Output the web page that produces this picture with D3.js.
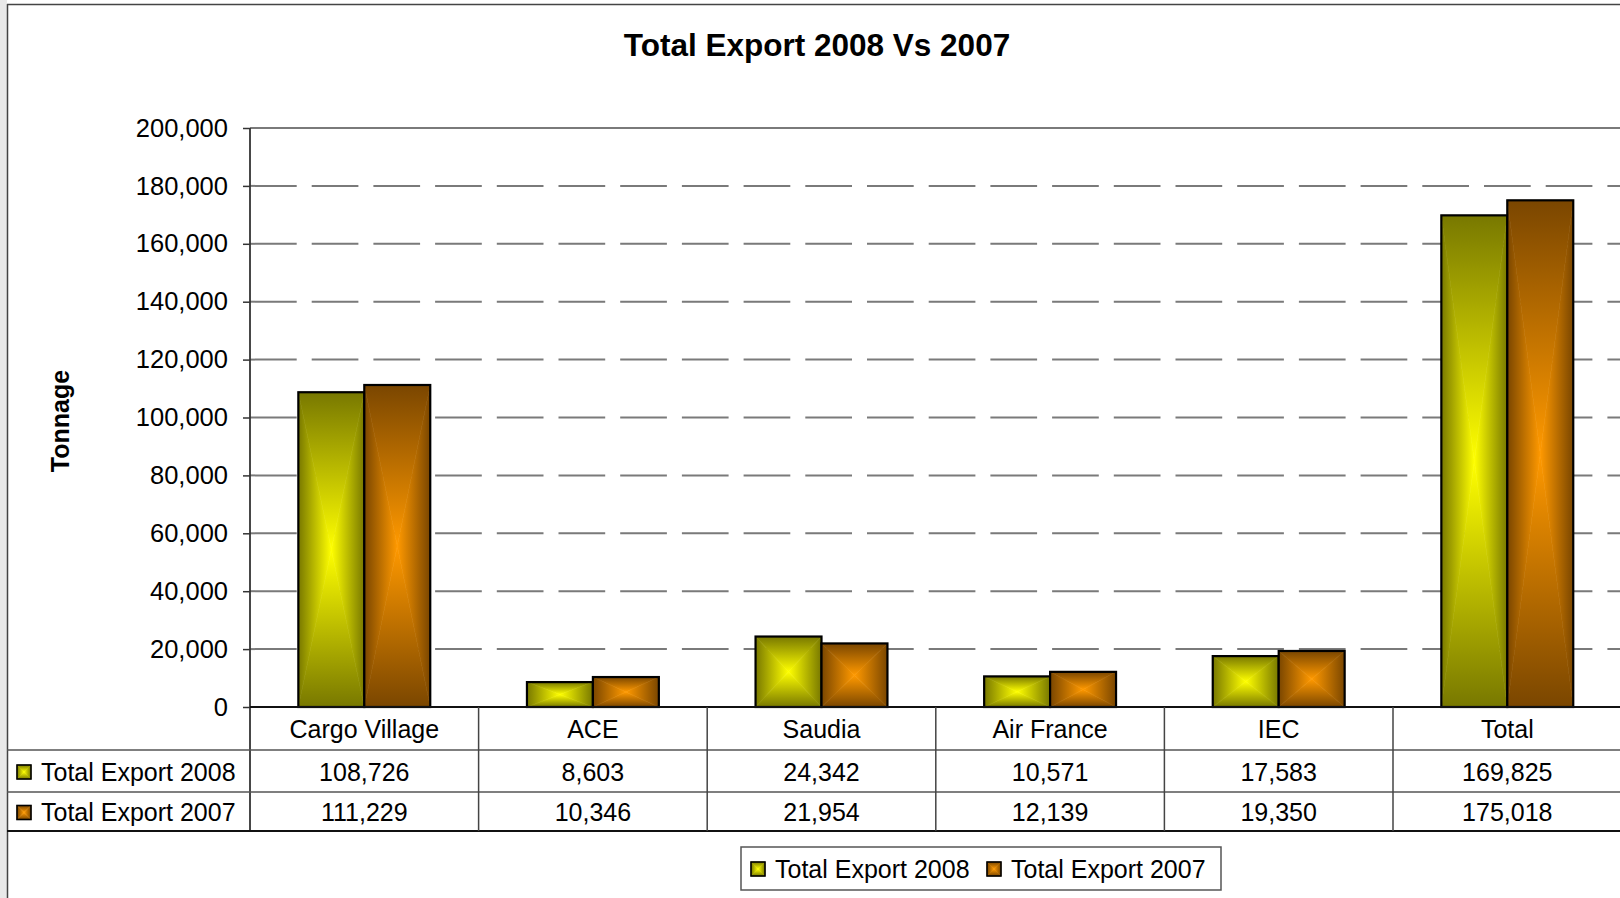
<!DOCTYPE html>
<html>
<head>
<meta charset="utf-8">
<script src="https://d3js.org/d3.v7.min.js"></script>
<style>
  html, body { margin: 0; padding: 0; background: #fff; overflow: hidden; }
  text { font-family: "Liberation Sans", Arial, sans-serif; fill: #000; }
</style>
</head>
<body>
<svg id="chart" width="1620" height="898"></svg>
<script>
const categories = ["Cargo Village", "ACE", "Saudia", "Air France", "IEC", "Total"];
const export2008 = [108726, 8603, 24342, 10571, 17583, 169825];
const export2007 = [111229, 10346, 21954, 12139, 19350, 175018];
const seriesNames = ["Total Export 2008", "Total Export 2007"];
const yTickValues = [0, 20000, 40000, 60000, 80000, 100000, 120000, 140000, 160000, 180000, 200000];
const chartTitle = "Total Export 2008 Vs 2007";
const yAxisTitle = "Tonnage";

(function () {
const seriesData = [export2008, export2007];
const seriesColors = [
  { dark: "#787800", bright: "#ffff00" },
  { dark: "#7a4600", bright: "#ff9900" }
];

const svg = d3.select("#chart");
const pLeft = 250, pRight = 1621.6, pTop = 128, pBottom = 707;
const rowY = [707, 750, 792, 831];

const y = d3.scaleLinear().domain([0, 200000]).range([pBottom, pTop]);
const xCol = d3.scaleBand().domain(categories).range([pLeft, pRight]).padding(0);
const xBar = d3.scaleBand().domain(categories).range([pLeft, pRight]).paddingInner(0.423).paddingOuter(0.2115);
const xSub = d3.scaleBand().domain(d3.range(seriesNames.length)).range([0, xBar.bandwidth()]);

// background & chart border
svg.append("rect").attr("x", 0).attr("y", 0).attr("width", 1620).attr("height", 898).attr("fill", "#fff");
svg.append("rect").attr("x", 0).attr("y", 0).attr("width", 7).attr("height", 898).attr("fill", "#e9e9e9");
svg.append("line").attr("x1", 7).attr("x2", 1620).attr("y1", 4.5).attr("y2", 4.5).attr("stroke", "#444").attr("stroke-width", 1.5);
svg.append("line").attr("x1", 7.5).attr("x2", 7.5).attr("y1", 4).attr("y2", 898).attr("stroke", "#444").attr("stroke-width", 1.5);

// gradients
const defs = svg.append("defs");
const dirs = {
  top: [0, 0, 0, 1], bottom: [0, 1, 0, 0], left: [0, 0, 1, 0], right: [1, 0, 0, 0]
};
seriesColors.forEach((c, i) => {
  Object.entries(dirs).forEach(([k, v]) => {
    const g = defs.append("linearGradient").attr("id", `g${i}${k}`)
      .attr("x1", v[0]).attr("y1", v[1]).attr("x2", v[2]).attr("y2", v[3]);
    g.append("stop").attr("offset", 0).attr("stop-color", c.dark);
    g.append("stop").attr("offset", 1).attr("stop-color", c.bright);
  });
});

function gradBox(g, x0, y0, w, h, si, sw) {
  const cx = x0 + w / 2, cy = y0 + h / 2, x1 = x0 + w, y1 = y0 + h;
  const tris = {
    top: [[x0, y0], [x1, y0], [cx, cy]],
    bottom: [[x0, y1], [x1, y1], [cx, cy]],
    left: [[x0, y0], [x0, y1], [cx, cy]],
    right: [[x1, y0], [x1, y1], [cx, cy]]
  };
  Object.entries(tris).forEach(([k, pts]) => {
    g.append("polygon").attr("points", pts.map(p => p.join(",")).join(" "))
      .attr("fill", `url(#g${si}${k})`).attr("stroke", `url(#g${si}${k})`).attr("stroke-width", 0.6);
  });
  g.append("rect").attr("x", x0).attr("y", y0).attr("width", w).attr("height", h)
    .attr("fill", "none").attr("stroke", "#000").attr("stroke-width", sw);
}

// gridlines
svg.append("g").selectAll("line").data(yTickValues.filter(v => v > 0 && v < 200000)).join("line")
  .attr("x1", pLeft).attr("x2", 1620).attr("y1", d => y(d)).attr("y2", d => y(d))
  .attr("stroke", "#7a7a7a").attr("stroke-width", 2).attr("stroke-dasharray", "46.7,15");
svg.append("line").attr("x1", pLeft).attr("x2", 1620).attr("y1", y(200000)).attr("y2", y(200000))
  .attr("stroke", "#7a7a7a").attr("stroke-width", 2);

// y axis
const yAxis = svg.append("g").attr("transform", `translate(${pLeft},0)`)
  .call(d3.axisLeft(y).tickValues(yTickValues).tickFormat(d3.format(",")).tickSize(7).tickPadding(15));
yAxis.select(".domain").remove();
yAxis.selectAll(".tick line").attr("stroke", "#333").attr("stroke-width", 1.5);
yAxis.selectAll(".tick text").attr("font-size", 25.5).attr("font-family", "Liberation Sans, Arial, sans-serif").attr("fill", "#000");
svg.append("line").attr("x1", pLeft).attr("x2", pLeft).attr("y1", pTop).attr("y2", rowY[3])
  .attr("stroke", "#333").attr("stroke-width", 1.8);

// bars
const barsG = svg.append("g");
categories.forEach((c, ci) => {
  seriesData.forEach((s, si) => {
    const x0 = xBar(c) + xSub(si);
    const y0 = y(s[ci]);
    gradBox(barsG, x0, y0, xSub.bandwidth(), y(0) - y0, si, 2.2);
  });
});

// data table
const tbl = svg.append("g");
tbl.append("line").attr("x1", pLeft).attr("x2", 1620).attr("y1", rowY[0]).attr("y2", rowY[0]).attr("stroke", "#111").attr("stroke-width", 2);
[rowY[1], rowY[2]].forEach(yy => tbl.append("line").attr("x1", 7).attr("x2", 1620).attr("y1", yy).attr("y2", yy).attr("stroke", "#555").attr("stroke-width", 1.5));
tbl.append("line").attr("x1", 7).attr("x2", 1620).attr("y1", rowY[3]).attr("y2", rowY[3]).attr("stroke", "#111").attr("stroke-width", 2);
categories.forEach((c, ci) => {
  if (ci > 0) tbl.append("line").attr("x1", xCol(c)).attr("x2", xCol(c)).attr("y1", rowY[0]).attr("y2", rowY[3]).attr("stroke", "#444").attr("stroke-width", 1.5);
  const cx = xCol(c) + xCol.bandwidth() / 2;
  tbl.append("text").attr("x", cx).attr("y", (rowY[0] + rowY[1]) / 2 + 1).attr("dy", "0.35em")
    .attr("text-anchor", "middle").attr("font-size", 25).text(c);
  seriesData.forEach((s, si) => {
    tbl.append("text").attr("x", cx).attr("y", (rowY[si + 1] + rowY[si + 2]) / 2 + 1).attr("dy", "0.35em")
      .attr("text-anchor", "middle").attr("font-size", 25).text(d3.format(",")(s[ci]));
  });
});
seriesNames.forEach((n, si) => {
  const cy = (rowY[si + 1] + rowY[si + 2]) / 2 + 1;
  gradBox(tbl, 17, cy - 7, 14, 14, si, 1.6);
  tbl.append("text").attr("x", 41).attr("y", cy).attr("dy", "0.35em").attr("font-size", 25).text(n);
});

// legend
const lg = svg.append("g");
lg.append("rect").attr("x", 741).attr("y", 847).attr("width", 480).attr("height", 43)
  .attr("fill", "#fff").attr("stroke", "#555").attr("stroke-width", 1.5);
const legendX = [751, 987];
seriesNames.forEach((n, si) => {
  gradBox(lg, legendX[si], 862, 14, 14, si, 1.6);
  lg.append("text").attr("x", legendX[si] + 24).attr("y", 869).attr("dy", "0.35em").attr("font-size", 25).text(n);
});

// titles
svg.append("text").attr("x", 817).attr("y", 56).attr("text-anchor", "middle")
  .attr("font-size", 31.5).attr("font-weight", "bold").text(chartTitle);
svg.append("text").attr("transform", "translate(69,421) rotate(-90)").attr("text-anchor", "middle")
  .attr("font-size", 25).attr("font-weight", "bold").text(yAxisTitle);
})();
</script>
</body>
</html>
